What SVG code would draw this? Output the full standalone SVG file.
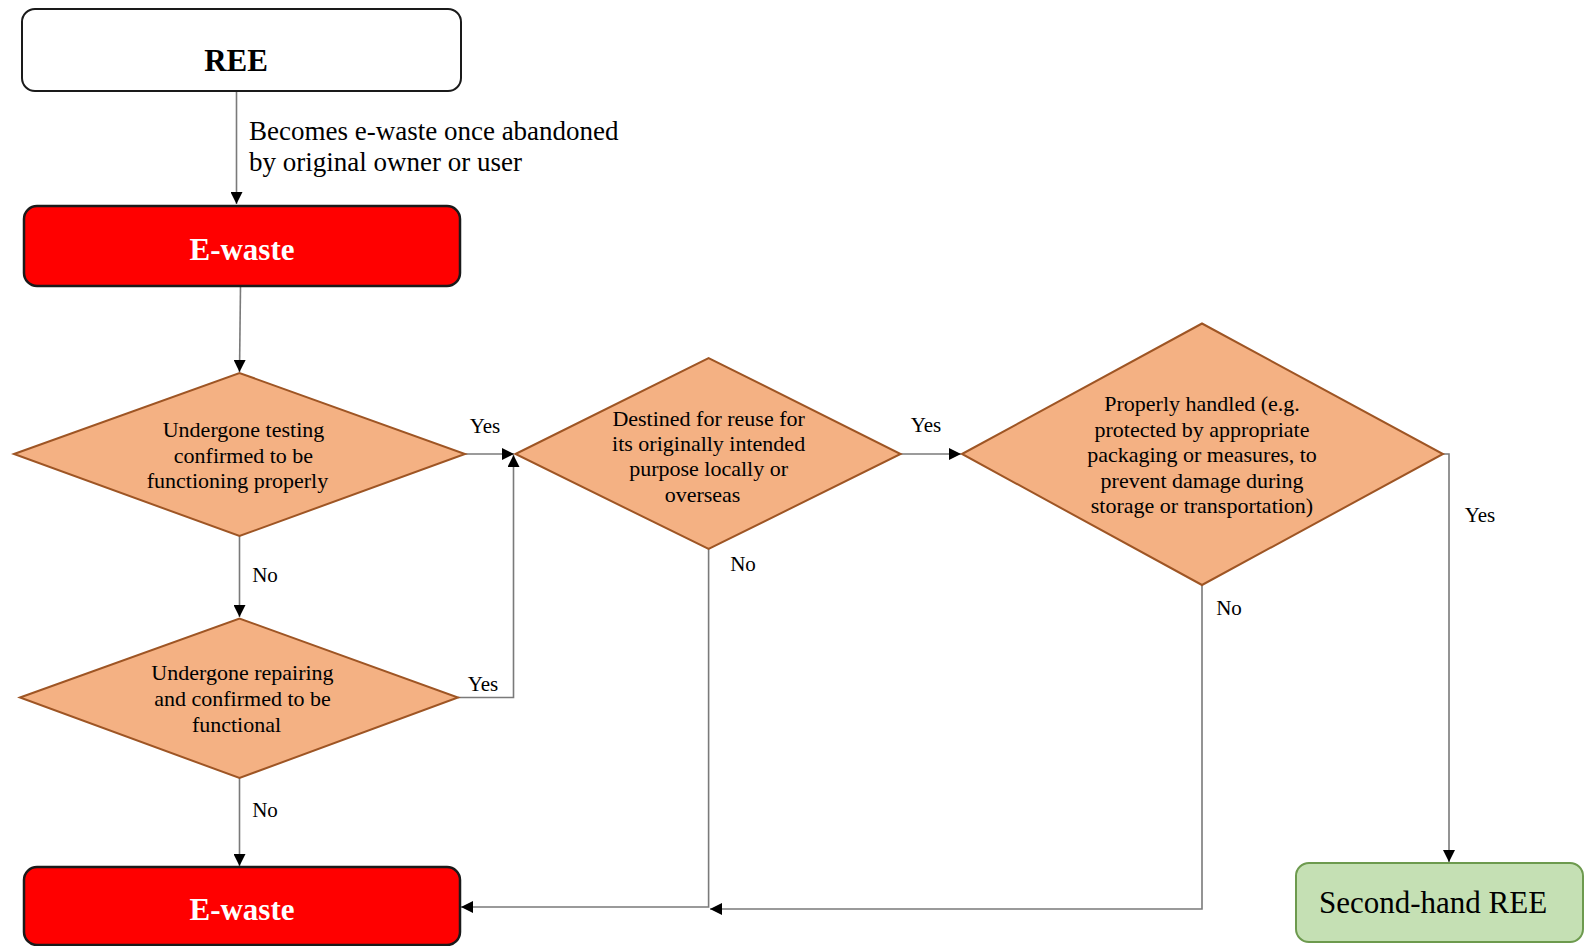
<svg xmlns="http://www.w3.org/2000/svg" width="1585" height="946" viewBox="0 0 1585 946">
<defs>
<marker id="arr" markerUnits="userSpaceOnUse" markerWidth="13" markerHeight="12" refX="12" refY="6" orient="auto">
<path d="M0,0 L12,6 L0,12 z" fill="#000"/>
</marker>
<style>
.t{font-family:"Liberation Serif","Times New Roman",serif;fill:#000;}
.d{font-size:22px;text-anchor:middle;}
.lbl{font-size:21px;text-anchor:middle;}
.dia{fill:#f4b183;stroke:#9e5524;stroke-width:2;}
.red{fill:#ff0000;stroke:#1a1a1a;stroke-width:2.5;}
.wb{font-family:"Liberation Serif","Times New Roman",serif;font-weight:bold;font-size:31px;fill:#fff;text-anchor:middle;}
.c{fill:none;stroke:#7a7a7a;stroke-width:1.6;}
</style>
</defs>

<g id="connectors">
<path class="c" d="M236.5,91 L236.5,204" marker-end="url(#arr)"/>
<path class="c" d="M240.5,286 L239.5,372" marker-end="url(#arr)"/>
<path class="c" d="M239.5,536 L239.5,617" marker-end="url(#arr)"/>
<path class="c" d="M465,454 L514,454" marker-end="url(#arr)"/>
<path class="c" d="M458,697.5 L513.5,697.5 L513.5,455" marker-end="url(#arr)"/>
<path class="c" d="M239.5,778 L239.5,866" marker-end="url(#arr)"/>
<path class="c" d="M900.6,454 L961,454" marker-end="url(#arr)"/>
<path class="c" d="M708.6,549 L708.6,907 L461,907" marker-end="url(#arr)"/>
<path class="c" d="M1202,585 L1202,909 L710,909" marker-end="url(#arr)"/>
<path class="c" d="M1443,454 L1449,454 L1449,862" marker-end="url(#arr)"/>
<text class="t" x="249" y="140" font-size="27">Becomes e-waste once abandoned</text>
<text class="t" x="249" y="171" font-size="27">by original owner or user</text>
<text class="t lbl" x="485" y="433">Yes</text>
<text class="t lbl" x="265" y="582">No</text>
<text class="t lbl" x="483" y="691">Yes</text>
<text class="t lbl" x="265" y="817">No</text>
<text class="t lbl" x="926" y="432">Yes</text>
<text class="t lbl" x="743" y="571">No</text>
<text class="t lbl" x="1229" y="615">No</text>
<text class="t lbl" x="1480" y="522">Yes</text>
</g>

<g id="ree">
<rect x="22" y="9" width="439" height="82" rx="13" fill="#fff" stroke="#1a1a1a" stroke-width="2"/>
<text x="236" y="71" font-family="Liberation Serif, Times New Roman, serif" font-weight="bold" font-size="31" fill="#000" text-anchor="middle">REE</text>
</g>

<g id="ewaste1">
<rect class="red" x="24" y="206" width="436" height="80" rx="13"/>
<text class="wb" x="242" y="260">E-waste</text>
</g>

<g id="d1">
<polygon class="dia" points="14,454 239.5,373 465,454 239.5,536"/>
<text class="t d" x="243.5" y="437">Undergone testing</text>
<text class="t d" x="243.5" y="462.5">confirmed to be</text>
<text class="t d" x="237.5" y="488">functioning properly</text>
</g>

<g id="d2">
<polygon class="dia" points="20,697.5 239.5,618.5 458,697.5 239.5,778"/>
<text class="t d" x="242.5" y="680">Undergone repairing</text>
<text class="t d" x="242.5" y="706">and confirmed to be</text>
<text class="t d" x="236.5" y="732">functional</text>
</g>

<g id="d3">
<polygon class="dia" points="515.5,454 708.6,358 900.6,454 708.6,549"/>
<text class="t d" x="708.6" y="425.5">Destined for reuse for</text>
<text class="t d" x="708.6" y="451">its originally intended</text>
<text class="t d" x="708.6" y="476">purpose locally or</text>
<text class="t d" x="702.5" y="501.5">overseas</text>
</g>

<g id="d4">
<polygon class="dia" points="962,454 1202,323.5 1443,454 1202,585"/>
<text class="t d" x="1202" y="411">Properly handled (e.g.</text>
<text class="t d" x="1202" y="436.5">protected by appropriate</text>
<text class="t d" x="1202" y="462">packaging or measures, to</text>
<text class="t d" x="1202" y="488">prevent damage during</text>
<text class="t d" x="1202" y="513">storage or transportation)</text>
</g>

<g id="ewaste2">
<rect class="red" x="24" y="867" width="436" height="78" rx="13"/>
<text class="wb" x="242" y="920">E-waste</text>
</g>

<g id="secondhand">
<rect x="1296" y="863" width="287" height="79" rx="13" fill="#c5e0b4" stroke="#6d9a4e" stroke-width="2"/>
<text x="1433" y="913" font-family="Liberation Serif, Times New Roman, serif" font-size="31" fill="#000" text-anchor="middle">Second-hand REE</text>
</g>
</svg>
